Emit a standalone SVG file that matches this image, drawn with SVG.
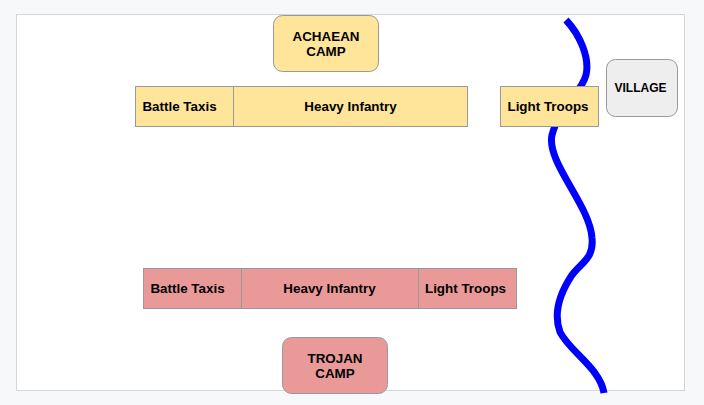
<svg xmlns="http://www.w3.org/2000/svg" width="704" height="405" viewBox="0 0 704 405">
<style>
text{font-family:"Liberation Sans",Arial,sans-serif;font-weight:bold;font-size:13.4px;fill:#000;text-anchor:middle;dominant-baseline:central}
.y{fill:#ffe599;stroke:#999;stroke-width:1}
.r{fill:#ea9999;stroke:#999;stroke-width:1}
.g{fill:#eeeeee;stroke:#999;stroke-width:1}
</style>
<rect x="0" y="0" width="704" height="405" fill="#f7f8fa"/>
<rect x="16.5" y="14.5" width="668" height="376" fill="#fff" stroke="#d6d6d6"/>
<g id="connectors">
<path d="M566,20 C580,35 590,58 586,75 C582,92 558,110 552,135 C546,162 590,205 592,238 C594,258 582,262 572,275 C562,290 552,310 560,332 C570,352 600,368 604,393" fill="none" stroke="#0000ff" stroke-width="7"/>
</g>
<g id="achaean-camp"><rect class="y" x="273.5" y="15.5" width="105" height="56" rx="9"/><text x="326" y="36">ACHAEAN</text><text x="326" y="51">CAMP</text></g>
<g id="achaean-battle-taxis"><rect class="y" x="135.5" y="86.5" width="98" height="40"/><text x="179.5" y="106.5">Battle Taxis</text></g>
<g id="achaean-heavy-infantry"><rect class="y" x="233.5" y="86.5" width="234" height="40"/><text x="350.5" y="106.5">Heavy Infantry</text></g>
<g id="achaean-light-troops"><rect class="y" x="500.5" y="86.5" width="98" height="40"/><text x="548" y="106.5">Light Troops</text></g>
<g id="village"><rect class="g" x="606.5" y="59.5" width="71" height="57" rx="9"/><text x="640.5" y="88" style="font-size:12px">VILLAGE</text></g>
<g id="trojan-battle-taxis"><rect class="r" x="143.5" y="268.5" width="98" height="40"/><text x="187.5" y="288.5">Battle Taxis</text></g>
<g id="trojan-heavy-infantry"><rect class="r" x="241.5" y="268.5" width="177" height="40"/><text x="329.5" y="288.5">Heavy Infantry</text></g>
<g id="trojan-light-troops"><rect class="r" x="418.5" y="268.5" width="98" height="40"/><text x="465.5" y="288.5">Light Troops</text></g>
<g id="trojan-camp"><rect class="r" x="282.5" y="337.5" width="105" height="56" rx="9"/><text x="335" y="358">TROJAN</text><text x="335" y="373">CAMP</text></g>
</svg>
